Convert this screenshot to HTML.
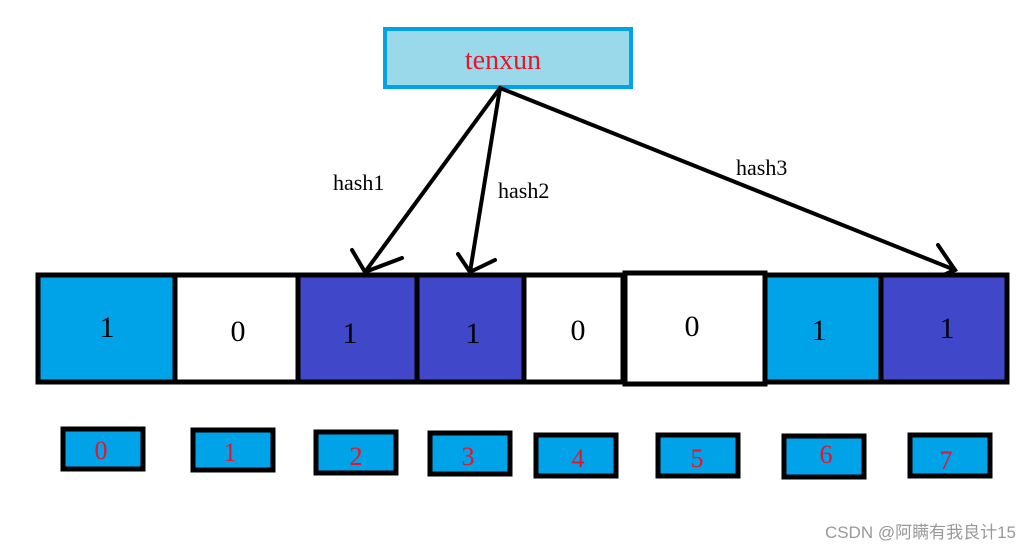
<!DOCTYPE html>
<html><head><meta charset="utf-8"><style>body{margin:0;background:#fff}svg{display:block}</style></head><body>
<svg width="1032" height="551" xmlns="http://www.w3.org/2000/svg" font-family="Liberation Serif, serif">
<rect width="1032" height="551" fill="#fff"/>
<rect x="385" y="29" width="246" height="58" fill="#99d9ea" stroke="#00a2e8" stroke-width="4"/>
<text x="503" y="69" font-size="28" fill="#e8142a" text-anchor="middle">tenxun</text>
<g stroke="#000" stroke-width="4" fill="none" stroke-linecap="round">
<line x1="500" y1="88" x2="365" y2="272"/>
<polyline points="352,250 365,272 402,258"/>
<line x1="500" y1="88" x2="470" y2="272"/>
<polyline points="458,254 470,272 495,260"/>
<line x1="500" y1="88" x2="955" y2="270"/>
<polyline points="938,245 955,270 925,283"/>
</g>
<g font-size="22" fill="#000">
<text x="333" y="190">hash1</text>
<text x="498" y="198">hash2</text>
<text x="736" y="175">hash3</text>
</g>
<g stroke="#000" stroke-width="5">
<rect x="38" y="275" width="137" height="107" fill="#00a2e8"/>
<rect x="175" y="275" width="123" height="107" fill="#fff"/>
<rect x="298" y="275" width="119" height="107" fill="#4047c9"/>
<rect x="417" y="275" width="107" height="107" fill="#4047c9"/>
<rect x="524" y="275" width="99" height="107" fill="#fff"/>
<rect x="625" y="273" width="140" height="111" fill="#fff"/>
<rect x="765" y="275" width="116" height="107" fill="#00a2e8"/>
<rect x="881" y="275" width="126" height="107" fill="#4047c9"/>
</g>
<g font-size="30" fill="#000" text-anchor="middle">
<text x="107" y="337">1</text><text x="238" y="341">0</text><text x="350" y="343">1</text><text x="473" y="343">1</text>
<text x="578" y="340">0</text><text x="692" y="336">0</text><text x="819" y="340">1</text><text x="947" y="338">1</text>
</g>
<g stroke="#000" stroke-width="5" fill="#00a2e8">
<rect x="63" y="429" width="80" height="40"/><rect x="193" y="430" width="80" height="40"/>
<rect x="316" y="432" width="80" height="41"/><rect x="430" y="433" width="80" height="41"/>
<rect x="536" y="435" width="80" height="41"/><rect x="658" y="435" width="80" height="41"/>
<rect x="784" y="436" width="80" height="41"/><rect x="910" y="435" width="80" height="41"/>
</g>
<g font-size="26" fill="#e8142a" text-anchor="middle">
<text x="101" y="459">0</text><text x="230" y="461">1</text><text x="356" y="465">2</text><text x="468" y="465">3</text>
<text x="578" y="467">4</text><text x="697" y="467">5</text><text x="826" y="463">6</text><text x="946" y="469">7</text>
</g>
<text x="1016" y="538" font-family="Liberation Sans, Noto Sans CJK SC, sans-serif" font-size="17" fill="#999" text-anchor="end">CSDN @阿瞒有我良计15</text>
</svg>
</body></html>
